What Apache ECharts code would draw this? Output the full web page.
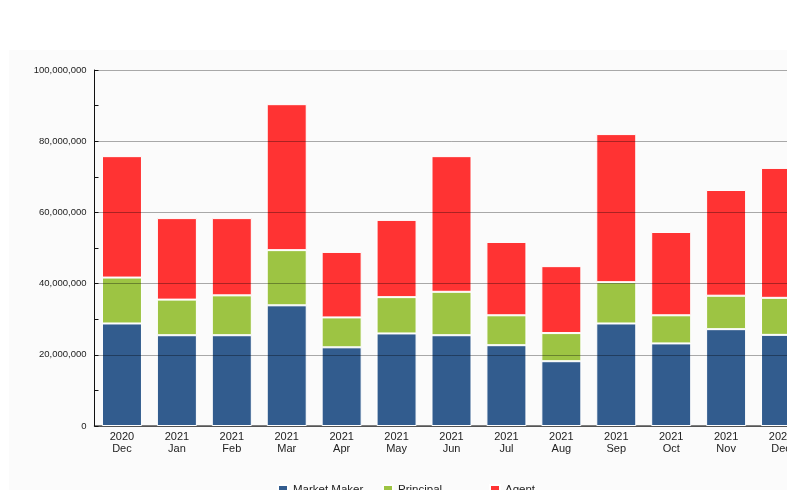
<!DOCTYPE html>
<html>
<head>
<meta charset="utf-8">
<script src="https://cdn.jsdelivr.net/npm/echarts@6/dist/echarts.min.js"></script>
<style>html,body{margin:0;padding:0;background:#fff;overflow:hidden;width:787px;height:490px}#c{width:809px;height:490px}</style>
</head>
<body>
<div id="c"></div>
<script>
const categories = ['2020\nDec','2021\nJan','2021\nFeb','2021\nMar','2021\nApr','2021\nMay','2021\nJun','2021\nJul','2021\nAug','2021\nSep','2021\nOct','2021\nNov','2021\nDec'];
const marketMaker = [28800000,25500000,25500000,33900000,22100000,26000000,25500000,22700000,18200000,28800000,23200000,27200000,25600000];
const principal   = [12900000,10000000,11200000,15500000,8400000,10200000,12200000,8400000,7900000,11600000,7900000,9400000,10400000];
const agent       = [34100000,22900000,21700000,41000000,18400000,21700000,38100000,20600000,18800000,41600000,23400000,29700000,36500000];
const seriesNames = ['Market Maker','Principal','Agent'];
const colors = ['#325c8e','#9dc443','#ff3333'];

const chart = echarts.init(document.getElementById('c'), null, {renderer:'canvas'});
const font = 'Liberation Sans, Arial, sans-serif';
const mk = (name, data, i) => ({
  name, type:'bar', stack:'total', data, barWidth:40,
  itemStyle:{color:colors[i], borderColor:'#ffffff', borderWidth:1},
  emphasis:{disabled:true}, z:2
});
const legendLefts = [272, 377, 484];
chart.setOption({
  animation:false,
  backgroundColor:'#ffffff',
  graphic:[{type:'rect', shape:{x:9,y:50,width:820,height:450}, style:{fill:'#fbfbfb'}, z:-10, silent:true}],
  grid:{left:94.5, top:70, right:0.5, bottom:64, containLabel:false},
  legend:seriesNames.map((n,i)=>({
    left:legendLefts[i], top:479, itemWidth:10, itemHeight:10, icon:'rect',
    textStyle:{fontFamily:font, fontSize:11.5, color:'#222'},
    data:[n]
  })),
  xAxis:{
    type:'category', data:categories,
    axisLine:{show:true, lineStyle:{color:'#555', width:1.5}},
    axisTick:{show:false},
    axisLabel:{fontFamily:font, fontSize:11, color:'#222', margin:5, lineHeight:12, interval:0}
  },
  yAxis:{
    type:'value', min:0, max:100000000, interval:20000000, z:5,
    axisLine:{show:true, lineStyle:{color:'#111', width:1}},
    axisTick:{show:true, inside:true, length:4, lineStyle:{color:'#111'}},
    minorTick:{show:true, splitNumber:2, length:4, lineStyle:{color:'#111'}},
    splitLine:{show:true, lineStyle:{color:'rgba(0,0,0,0.33)', width:1}},
    axisLabel:{fontFamily:font, fontSize:9.5, color:'#222', margin:8,
      formatter:v=>v.toLocaleString('en-US')}
  },
  series:[mk(seriesNames[0], marketMaker, 0), mk(seriesNames[1], principal, 1), mk(seriesNames[2], agent, 2)]
});
</script>
</body>
</html>
